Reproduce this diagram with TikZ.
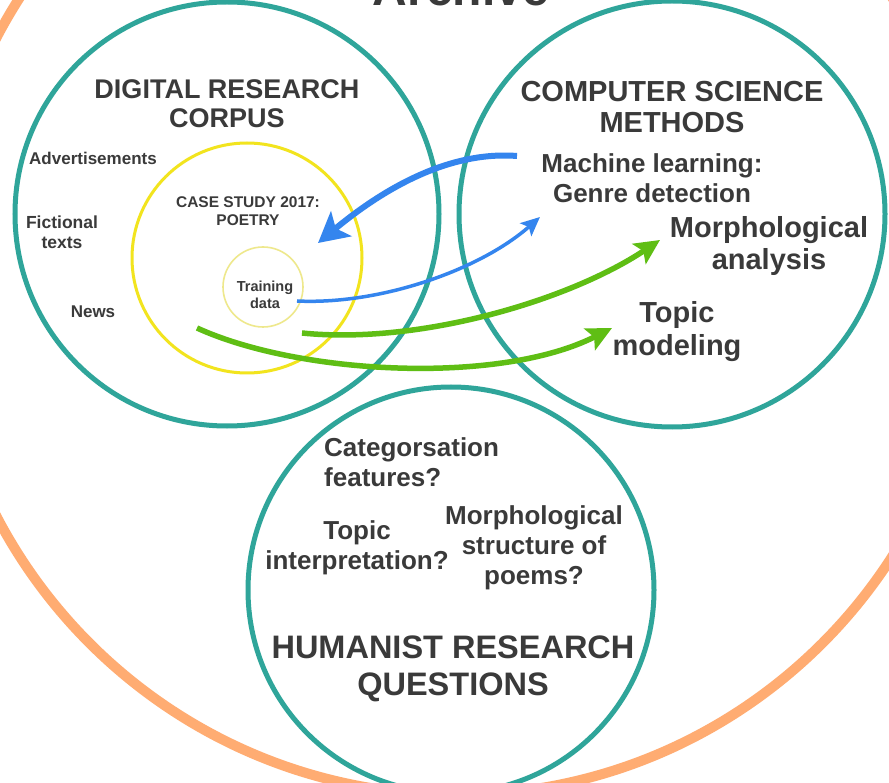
\documentclass[tikz,border=0pt]{standalone}
\usepackage{fontspec}
\setmainfont{Liberation Sans}
\usetikzlibrary{arrows.meta}
\definecolor{tealc}{HTML}{2FA59A}
\definecolor{orangec}{HTML}{FFAC72}
\definecolor{yellowc}{HTML}{F2E41E}
\definecolor{paleyellow}{HTML}{EEE88C}
\definecolor{bluec}{HTML}{3485EE}
\definecolor{greenc}{HTML}{5FBE14}
\definecolor{textc}{HTML}{3A3A3A}
\begin{document}
\begin{tikzpicture}[x=1pt,y=-1pt,
  tealring/.style={draw=tealc,line width=5pt},
  lbl/.style={text=textc,font=\bfseries,align=center,inner sep=0pt},
  bluethick/.style={draw=bluec,line width=6pt,-{Stealth[length=30pt,width=32pt,inset=7pt]}},
  bluethin/.style={draw=bluec,line width=3.5pt,-{Stealth[length=19pt,width=17pt,inset=4pt]}},
  greenarr/.style={draw=greenc,line width=5.5pt,-{Stealth[length=25pt,width=24pt,inset=5pt]}}]
\useasboundingbox (0,0) rectangle (889,783);
\fill[white] (0,0) rectangle (889,783);
% archive
\draw[orangec,line width=10pt] (456,277) circle (518);
\node[lbl,anchor=base,font=\bfseries\fontsize{48}{50}\selectfont] (archive) at (461,6) {Archive};
% main rings
\draw[tealring] (227,214) circle (212);
\draw[tealring] (672,214) circle (213);
\draw[tealring] (451,590) circle (203);
% corpus rings
\draw[yellowc,line width=3pt] (247,258) circle (115);
\draw[paleyellow,line width=1.6pt] (263,287) circle (40);
% texts
\node[lbl,font=\bfseries\fontsize{27}{29}\selectfont] (corpus) at (227,104) {DIGITAL RESEARCH\\CORPUS};
\node[lbl,font=\bfseries\fontsize{29}{31}\selectfont] (methods) at (672,107.5) {COMPUTER SCIENCE\\METHODS};
\node[lbl,font=\bfseries\fontsize{26}{30}\selectfont] (ml) at (652,178) {Machine learning:\\Genre detection};
\node[lbl,font=\bfseries\fontsize{29}{32}\selectfont] (morph) at (769,246) {Morphological\\analysis};
\node[lbl,font=\bfseries\fontsize{29}{33}\selectfont] (topic) at (677,331.5) {Topic\\modeling};
\node[lbl,font=\bfseries\fontsize{17}{20}\selectfont] (adv) at (93,158) {Advertisements};
\node[lbl,font=\bfseries\fontsize{17.5}{20}\selectfont] (fict) at (62,232) {Fictional\\texts};
\node[lbl,font=\bfseries\fontsize{17}{20}\selectfont] (news) at (93,312) {News};
\node[lbl,font=\bfseries\fontsize{15.5}{18}\selectfont] (case) at (248,211) {CASE STUDY 2017:\\POETRY};
\node[lbl,font=\bfseries\fontsize{14.5}{17}\selectfont] (train) at (265,295) {Training\\data};
\node[lbl,align=left,anchor=west,font=\bfseries\fontsize{26}{30}\selectfont] (categ) at (324,462) {Categorsation\\features?};
\node[lbl,font=\bfseries\fontsize{26}{30}\selectfont] (topint) at (357,548) {Topic\\interpretation?};
\node[lbl,font=\bfseries\fontsize{26}{30}\selectfont] (morphq) at (534,548) {Morphological\\structure of\\poems?};
\node[lbl,font=\bfseries\fontsize{32.5}{37}\selectfont] (humq) at (453,668.5) {HUMANIST RESEARCH\\QUESTIONS};
% arrow ends
\coordinate (mlStart) at (517,156);
\coordinate (caseEnd) at (318,243);
\coordinate (trainStart) at (297,301);
\coordinate (mlEnd) at (540,217);
\coordinate (gUpStart) at (302,333);
\coordinate (morphEnd) at (660,240);
\coordinate (gLowStart) at (197,328);
\coordinate (topicEnd) at (612,328);
% arrows
\draw[bluethick] (mlStart) .. controls (440,150) and (370,200) .. (caseEnd);
\draw[bluethin] (trainStart) .. controls (380,305) and (480,270) .. (mlEnd);
\draw[greenarr] (gUpStart) .. controls (420,345) and (570,300) .. (morphEnd);
\draw[greenarr] (gLowStart) .. controls (300,375) and (500,385) .. (topicEnd);
\end{tikzpicture}
\end{document}
